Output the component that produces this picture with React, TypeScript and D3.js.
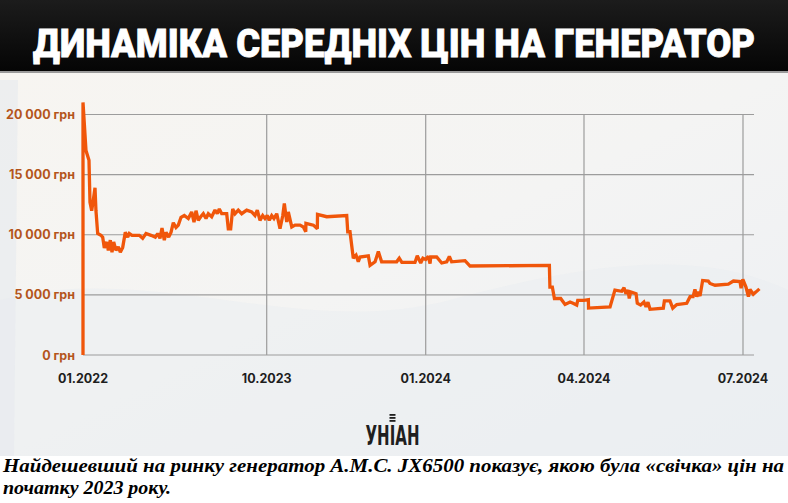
import React from "react";
import * as d3 from "d3";

// day offsets from 01.01.2022 and average price (грн)
const days: number[] = [
  0, 0, 10.4, 20.8, 24.3, 30.2, 35.8, 41.7, 45, 51, 62.5, 68.4, 74, 82.3, 87.9, 94.8, 100.7, 106.6, 114.6, 122.6,
  129.5, 137.9, 146.9, 155.2, 160.8, 170.2, 195.5, 207.3, 218.8, 236.2, 251.1, 259.4, 267.4, 274.4, 282.4, 288.3,
  297.6, 305.6, 313.6, 323, 331, 340.4, 351.8, 365.7, 377.5, 385.5, 392.5, 400.4, 408.8, 417.8, 427.2, 435.2, 447,
  458.4, 466.4, 473.4, 481.7, 499.1, 504.6, 512.9, 519.9, 527.9, 539.3, 551.1, 568.5, 585.9, 597.3, 605.3, 614.7,
  624.1, 632.1, 638.3, 639.5, 640.9, 642.2, 643.8, 645.7, 647.3, 648.2, 649.6, 650.5, 652.5, 654.4, 657.3, 659.2,
  660.6, 660.7, 665, 667.3, 667.4, 672.7, 684.3, 684.9, 686.2, 688.1, 689.7, 691, 692, 696.8, 697.8, 700.7, 702.6,
  704.5, 713.2, 714.7, 716.2, 723.8, 725.1, 727.1, 728.4, 730, 731.5, 732.5, 732.9, 736.3, 739.2, 742.1, 743.6,
  744.9, 752.6, 755.5, 801.1, 801.4, 802.8, 804, 807.6, 810.1, 813, 814.7, 816.8, 817.4, 821, 823.5, 823.6, 835.9,
  838.7, 842.6, 843.9, 845, 846.2, 846.9, 847.7, 850.8, 851.5, 853.4, 855.3, 856.5, 857.6, 858.8, 866.4, 867, 870.2,
  871.8, 874.1, 879.8, 881.7, 883.4, 884.5, 885.5, 886.4, 887.4, 888.9, 892.1, 893.1, 896, 903.6, 906.5, 910.3,
  910.9, 911.9, 913.7, 915.1, 916, 917.9, 919.5, 921.4,
];
const prices: number[] = [
  0, 21000, 17000, 16200, 12700, 12000, 12900, 13900, 12000, 10100, 9950, 9800, 8900, 9400, 8700, 9550, 8550, 9400,
  8700, 9000, 8550, 8950, 10200, 9800, 10100, 9950, 9950, 9700, 10100, 9950, 9800, 10100, 9700, 10550, 9550, 10200,
  9800, 10200, 11000, 10600, 10800, 11450, 11600, 11350, 11900, 11050, 12000, 11200, 11500, 11750, 11350, 11750,
  11500, 12050, 11750, 12150, 11750, 11750, 10500, 10500, 12150, 11750, 12050, 11750, 12050, 11900, 11600, 12050,
  11200, 11600, 11350, 11600, 11200, 11600, 11350, 11750, 10500, 11600, 12600, 11050, 11900, 10650, 10800, 10800,
  10650, 10250, 10950, 10800, 10500, 11700, 11500, 11600, 10250, 10250, 8050, 8300, 7750, 8150, 8250, 7450, 7750,
  8600, 7750, 7750, 8050, 7700, 7700, 8250, 7650, 8050, 7950, 8200, 7600, 8150, 8150, 7650, 7750, 8200, 7750, 7850,
  7400, 7450, 5650, 5650, 4700, 4700, 4200, 4400, 4300, 4150, 4550, 4550, 4600, 3900, 4000, 5400, 5300, 5600, 5100,
  5400, 4700, 5250, 5100, 4300, 4150, 4400, 4000, 4400, 3800, 3900, 4500, 4500, 3900, 4200, 4300, 4850, 4850, 5450,
  4850, 5250, 4900, 6200, 6150, 5950, 5800, 5900, 6150, 6100, 5550, 6300, 5650, 4850, 5450, 5050, 5250, 5500,
];

const tickDays: number[] = [0, 638, 730, 821, 912];
const tickLabels: string[] = ["01.2022", "10.2023", "01.2024", "04.2024", "07.2024"];
const yTicks: number[] = [0, 5000, 10000, 15000, 20000];

const W = 788;
const H = 503;

export default function App() {
  const x = d3.scaleLinear().domain(tickDays).range([83, 266.7, 425.7, 584, 743]);
  const y = d3.scaleLinear().domain([0, 20000]).range([355, 114.5]);
  const data = days.map((d, i) => [d, prices[i]] as [number, number]);
  const line = d3
    .line<[number, number]>()
    .x((d) => x(d[0]))
    .y((d) => y(d[1]));
  const fmt = (v: number) => (v === 0 ? "0" : d3.format(",")(v).replace(/,/g, " ")) + " грн";

  return (
    <svg
      width={W}
      height={H}
      style={{ position: "absolute", left: 0, top: 0, display: "block" }}
      fontFamily="Inter, Roboto, sans-serif"
    >
      <defs>
        <linearGradient id="bg" x1="0" y1="0" x2="1" y2="1">
          <stop offset="0" stopColor="#f7f5f1" />
          <stop offset="0.5" stopColor="#f4f4f3" />
          <stop offset="1" stopColor="#eceff3" />
        </linearGradient>
        <linearGradient id="tb" x1="0" y1="0" x2="0" y2="1">
          <stop offset="0" stopColor="#1c1c1c" />
          <stop offset="1" stopColor="#050505" />
        </linearGradient>
      </defs>
      <rect x={0} y={0} width={W} height={H} fill="#ffffff" />
      <rect x={0} y={72} width={W} height={384} fill="url(#bg)" />
      <path d="M0,300 C150,260 300,340 450,300 S700,250 788,290 L788,456 L0,456 Z" fill="#e9edf2" opacity={0.5} />
      <path d="M0,80 L18,80 L14,456 L0,456 Z" fill="#e6e9ee" opacity={0.6} />
      <rect x={0} y={0} width={W} height={71} fill="url(#tb)" />
      <rect x={0} y={71} width={W} height={2} fill="#9a9a9a" />
      <text
        x={33}
        y={57}
        fill="#ffffff"
        fontFamily="Roboto, Inter, sans-serif"
        fontWeight={900}
        fontSize={39}
        textLength={722}
        lengthAdjust="spacingAndGlyphs"
        stroke="#ffffff"
        strokeWidth={0.8}
      >
        ДИНАМІКА СЕРЕДНІХ ЦІН НА ГЕНЕРАТОР
      </text>

      {/* grid */}
      {yTicks.map((t) => (
        <line key={"h" + t} x1={83} x2={754} y1={y(t)} y2={y(t)} stroke="#9c9c9c" strokeWidth={1.2} />
      ))}
      {tickDays.map((t) => (
        <line key={"v" + t} x1={x(t)} x2={x(t)} y1={y(20000)} y2={y(0)} stroke="#9c9c9c" strokeWidth={1.2} />
      ))}

      {yTicks.map((t) => (
        <text
          key={"yl" + t}
          x={75}
          y={y(t) + 4.5}
          textAnchor="end"
          fill="#b4551c"
          fontWeight={700}
          fontSize={12.5}
        >
          {fmt(t)}
        </text>
      ))}
      {tickDays.map((t, i) => (
        <text
          key={"xl" + t}
          x={x(t)}
          y={383}
          textAnchor="middle"
          fill="#1e1e1e"
          fontWeight={700}
          fontSize={12.5}
        >
          {tickLabels[i]}
        </text>
      ))}

      <path d={line(data) || ""} fill="none" stroke="#f0560a" strokeWidth={3.3} strokeLinejoin="miter" strokeMiterlimit={2} />

      {/* logo */}
      <g fill="#1f1f1f">
        <rect x={389.5} y={414} width={6} height={1.8} />
        <rect x={389.5} y={417} width={6} height={1.8} />
        <rect x={389.5} y={420} width={6} height={1.8} />
        <text
          x={392.5}
          y={445}
          textAnchor="middle"
          fontFamily="'DejaVu Sans', sans-serif"
          fontWeight={700}
          fontSize={27}
          textLength={54}
          lengthAdjust="spacingAndGlyphs"
        >
          УНІАН
        </text>
      </g>

      {/* caption */}
      <g fontFamily="'Liberation Serif', 'Times New Roman', serif" fontStyle="italic" fontWeight={700} fontSize={19.5} fill="#000">
        <text x={3} y={472} textLength={781} lengthAdjust="spacingAndGlyphs">
          Найдешевший на ринку генератор A.M.C. JX6500 показує, якою була «свічка» цін на
        </text>
        <text x={3} y={494} textLength={168} lengthAdjust="spacingAndGlyphs">
          початку 2023 року.
        </text>
      </g>
    </svg>
  );
}
